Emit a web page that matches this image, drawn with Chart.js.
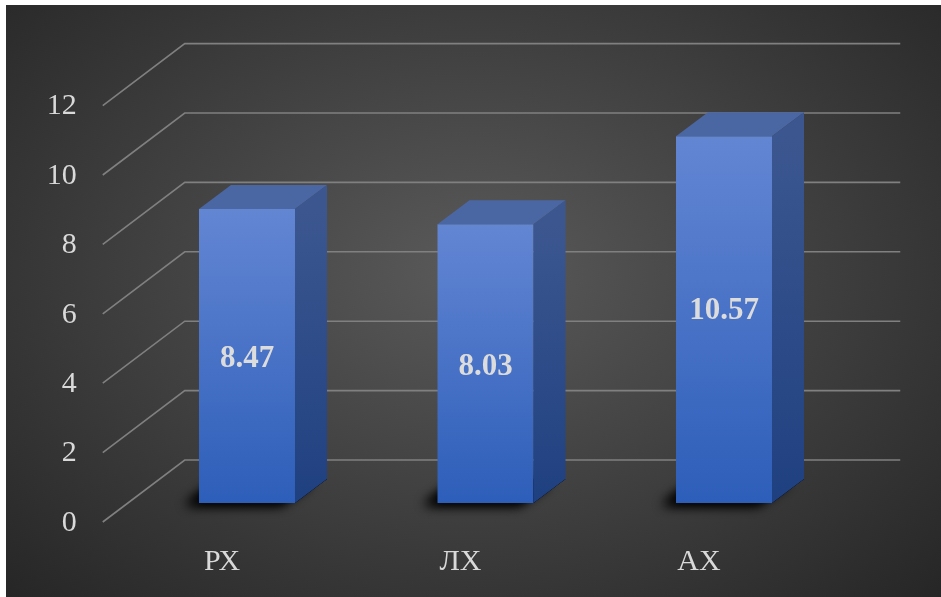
<!DOCTYPE html>
<html><head><meta charset="utf-8">
<script src="https://cdn.jsdelivr.net/npm/chart.js@4.4.0/dist/chart.umd.min.js"></script>
<style>
html,body{margin:0;padding:0;background:#fff;}
#bg{position:absolute;left:6px;top:5px;width:935px;height:592px;background:radial-gradient(ellipse farthest-corner at 50% 45%, #5a5a5a 0%, #262626 100%);}
#c{position:absolute;left:0;top:0;}
</style></head><body>
<div id="bg"></div>
<canvas id="c" width="941" height="597"></canvas>
<script>
const categories = ['РХ', 'ЛХ', 'АХ'];
const values = [8.47, 8.03, 10.57];
const yMin = 0;
const yMax = 12;
const yStep = 2;

const FLOOR_FRONT = {dx: -25, dy: 19};
const BACK_WALL = {dx: 57, dy: -43};
const BAR_DEPTH = {dx: 32, dy: -24};
const SERIF = "'Liberation Serif', 'Times New Roman', serif";
const TEXT_COLOR = '#d9d9d9';

function frontGradient(ctx, top, bottom) {
  const g = ctx.createLinearGradient(0, top, 0, bottom);
  g.addColorStop(0, '#6386d3');
  g.addColorStop(1, '#2d5eb9');
  return g;
}

const threeD = {
  id: 'threeD',
  beforeDatasetsDraw(chart) {
    const {ctx, chartArea, scales} = chart;
    const y = scales.y, x = scales.x;
    ctx.save();
    ctx.strokeStyle = '#808080';
    ctx.lineWidth = 1.6;
    y.ticks.forEach(t => {
      const py = y.getPixelForValue(t.value);
      const bx = chartArea.left + BACK_WALL.dx, by = py + BACK_WALL.dy;
      ctx.beginPath();
      ctx.moveTo(chartArea.left + FLOOR_FRONT.dx, py + FLOOR_FRONT.dy);
      ctx.lineTo(bx, by);
      ctx.lineTo(chartArea.right + BACK_WALL.dx, by);
      ctx.stroke();
    });
    // axis tick labels (value axis at the front edge of the floor)
    ctx.fillStyle = TEXT_COLOR;
    ctx.font = '30px ' + SERIF;
    ctx.textAlign = 'right';
    ctx.textBaseline = 'middle';
    y.ticks.forEach(t => {
      ctx.fillText(t.label, chartArea.left - 51, y.getPixelForValue(t.value) + FLOOR_FRONT.dy + 1);
    });
    ctx.textAlign = 'center';
    x.ticks.forEach((t, i) => {
      ctx.fillText(chart.data.labels[t.value], x.getPixelForTick(i) + FLOOR_FRONT.dx, chartArea.bottom + 59);
    });
    // base shadows
    const meta = chart.getDatasetMeta(0);
    meta.data.forEach(bar => {
      const xl = bar.x - bar.width / 2, xr = bar.x + bar.width / 2, b = bar.base;
      for (let k = 0; k < 2; k++) {
        ctx.save();
        ctx.shadowColor = 'rgba(0,0,0,1)';
        ctx.shadowBlur = 12;
        ctx.shadowOffsetX = -14;
        ctx.shadowOffsetY = 2;
        ctx.fillStyle = '#000';
        ctx.beginPath();
        ctx.moveTo(xl, b);
        ctx.lineTo(xr, b);
        ctx.lineTo(xr + BAR_DEPTH.dx, b + BAR_DEPTH.dy);
        ctx.lineTo(xl + BAR_DEPTH.dx, b + BAR_DEPTH.dy);
        ctx.closePath();
        ctx.fill();
        ctx.restore();
      }
    });
    ctx.restore();
  },
  afterDatasetsDraw(chart, args, opts) {
    const {ctx} = chart;
    const meta = chart.getDatasetMeta(0);
    ctx.save();
    meta.data.forEach((bar, i) => {
      const xl = bar.x - bar.width / 2, xr = bar.x + bar.width / 2, t = bar.y, b = bar.base;
      ctx.fillStyle = '#4a67a4';
      ctx.beginPath();
      ctx.moveTo(xl, t);
      ctx.lineTo(xr, t);
      ctx.lineTo(xr + BAR_DEPTH.dx, t + BAR_DEPTH.dy);
      ctx.lineTo(xl + BAR_DEPTH.dx, t + BAR_DEPTH.dy);
      ctx.closePath();
      ctx.fill();
      const g = ctx.createLinearGradient(0, t, 0, b);
      g.addColorStop(0, '#3c5790');
      g.addColorStop(1, '#1f4080');
      ctx.fillStyle = g;
      ctx.beginPath();
      ctx.moveTo(xr, t);
      ctx.lineTo(xr + BAR_DEPTH.dx, t + BAR_DEPTH.dy);
      ctx.lineTo(xr + BAR_DEPTH.dx, b + BAR_DEPTH.dy);
      ctx.lineTo(xr, b);
      ctx.closePath();
      ctx.fill();
      const off = (opts.labelShift && opts.labelShift[i]) || 0;
      ctx.fillStyle = '#dcdcdc';
      ctx.font = 'bold 31px ' + SERIF;
      ctx.textAlign = 'center';
      ctx.textBaseline = 'middle';
      ctx.fillText(values[i].toFixed(2), bar.x, (t + b) / 2 + 3 + off);
    });
    ctx.restore();
  }
};

new Chart(document.getElementById('c'), {
  type: 'bar',
  data: {
    labels: categories,
    datasets: [{
      data: values,
      backgroundColor: (c) => {
        const ch = c.chart;
        const y = ch.scales && ch.scales.y;
        if (!ch.chartArea || !y || !c.parsed) return '#4a74c8';
        const top = y.getPixelForValue(c.parsed.y), bot = y.getPixelForValue(0);
        if (!isFinite(top) || !isFinite(bot)) return '#4a74c8';
        return frontGradient(ch.ctx, top, bot);
      },
      borderWidth: 0,
      categoryPercentage: 1,
      barPercentage: 0.4025
    }]
  },
  options: {
    responsive: false,
    animation: false,
    events: [],
    layout: {padding: {top: 86.6, right: 97.75, left: 0, bottom: 0}},
    plugins: {
      legend: {display: false},
      tooltip: {enabled: false},
      threeD: {labelShift: [0, 0, -12]}
    },
    scales: {
      x: {
        grid: {display: false, drawTicks: false},
        border: {display: false},
        ticks: {display: false},
        afterFit: (s) => { s.height = 94; }
      },
      y: {
        min: yMin,
        max: yMax,
        grid: {display: false, drawTicks: false},
        border: {display: false},
        ticks: {display: false, stepSize: yStep},
        afterFit: (s) => { s.width = 127.75; }
      }
    }
  },
  plugins: [threeD]
});
</script>
</body></html>
